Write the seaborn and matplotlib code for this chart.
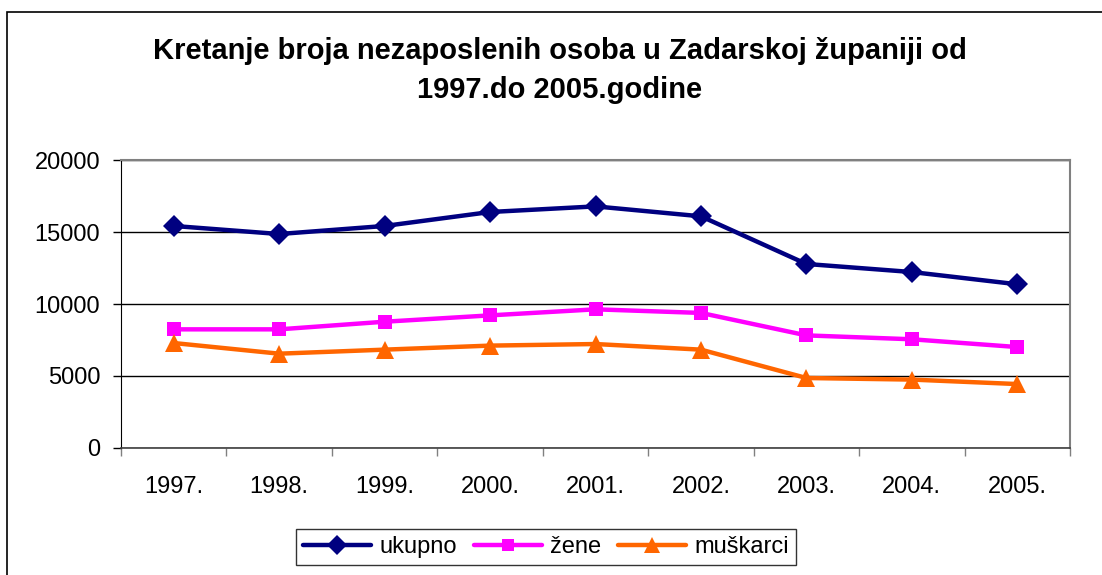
import numpy as np
import pandas as pd
import matplotlib
matplotlib.use("Agg")
import matplotlib.pyplot as plt
import matplotlib.ticker as ticker
import seaborn as sns

godine = ["1997.", "1998.", "1999.", "2000.", "2001.", "2002.", "2003.", "2004.", "2005."]
ukupno = [15420, 14860, 15420, 16390, 16780, 16090, 12780, 12220, 11370]
zene = [8240, 8240, 8770, 9210, 9630, 9380, 7820, 7550, 7010]
muskarci = [7290, 6550, 6830, 7110, 7220, 6830, 4860, 4750, 4440]
serije = ["ukupno", "žene", "muškarci"]
boje = ["#000080", "#FF00FF", "#FF6600"]
markeri = ["D", "s", "^"]

df = pd.DataFrame({"godina": godine * 3,
                   "vrijednost": ukupno + zene + muskarci,
                   "serija": np.repeat(serije, len(godine))})

sns.set_style("white")
plt.rcParams['font.family'] = ['Liberation Sans', 'DejaVu Sans']
plt.rcParams['text.color'] = 'black'
plt.rcParams['xtick.color'] = 'black'
plt.rcParams['ytick.color'] = 'black'

fig = plt.figure(figsize=(11.02, 5.75), dpi=100)
ax = fig.add_axes([0.1098, 0.2209, 0.8612, 0.5008])

# okvir oko cijelog grafikona
fig.patches.append(plt.Rectangle((7/1102, -0.05), 1.1, 1 - 12/575 + 0.05, transform=fig.transFigure,
                                 fill=False, edgecolor="black", linewidth=1.2, zorder=0))

sns.lineplot(data=df, x="godina", y="vrijednost", hue="serija", style="serija",
             palette=boje, markers=markeri, dashes=False, linewidth=3.2,
             markeredgewidth=0, ax=ax, sort=False)

sizes = [11.5, 9.5, 12.5]
for l, s in zip(ax.lines[:3], sizes):
  l.set_markersize(s)

ax.set_xlim(-0.5, 8.5)
ax.set_ylim(0, 20000)
ax.set_xlabel("")
ax.set_ylabel("")
ax.yaxis.set_major_locator(ticker.MultipleLocator(5000))
ax.grid(axis="y", color="black", linewidth=1)
ax.set_axisbelow(True)
ax.set_xticks(range(len(godine)))
ax.set_xticklabels(godine)
ax.set_xticks(np.arange(-0.5, 9, 1), minor=True)
ax.tick_params(axis="x", which="major", length=0, pad=20, labelsize=17)
ax.tick_params(axis="x", which="minor", length=6, width=1, color="#808080", direction="out", bottom=True)
ax.tick_params(axis="y", length=6, width=1, color="black", direction="out", left=True, pad=9, labelsize=17)
for side in ["top", "right"]:
  ax.spines[side].set_color("#808080")
  ax.spines[side].set_linewidth(1.5)
ax.spines["left"].set_color("black")
ax.spines["bottom"].set_color("#404040")
ax.spines["bottom"].set_linewidth(1.2)

fig.text(0.508, 0.878, "Kretanje broja nezaposlenih osoba u Zadarskoj županiji od\n1997.do 2005.godine",
         ha="center", va="center", fontsize=21, fontweight="bold", linespacing=1.5, color="black")

h, lab = ax.get_legend_handles_labels()
ax.get_legend().remove()
for hh, s in zip(h, [10, 8, 11]):
  hh.set_markersize(s)
  hh.set_linewidth(3.2)
  hh.set_markeredgewidth(0)
leg = fig.legend(h, lab, loc="center", bbox_to_anchor=(0.4955, 0.0487), ncol=3, fontsize=17,
                 frameon=True, fancybox=False, edgecolor="black", handlelength=2.9,
                 columnspacing=0.7, handletextpad=0.35, borderpad=0.3)
leg.get_frame().set_linewidth(1)

fig.savefig("out.png", dpi=100)
